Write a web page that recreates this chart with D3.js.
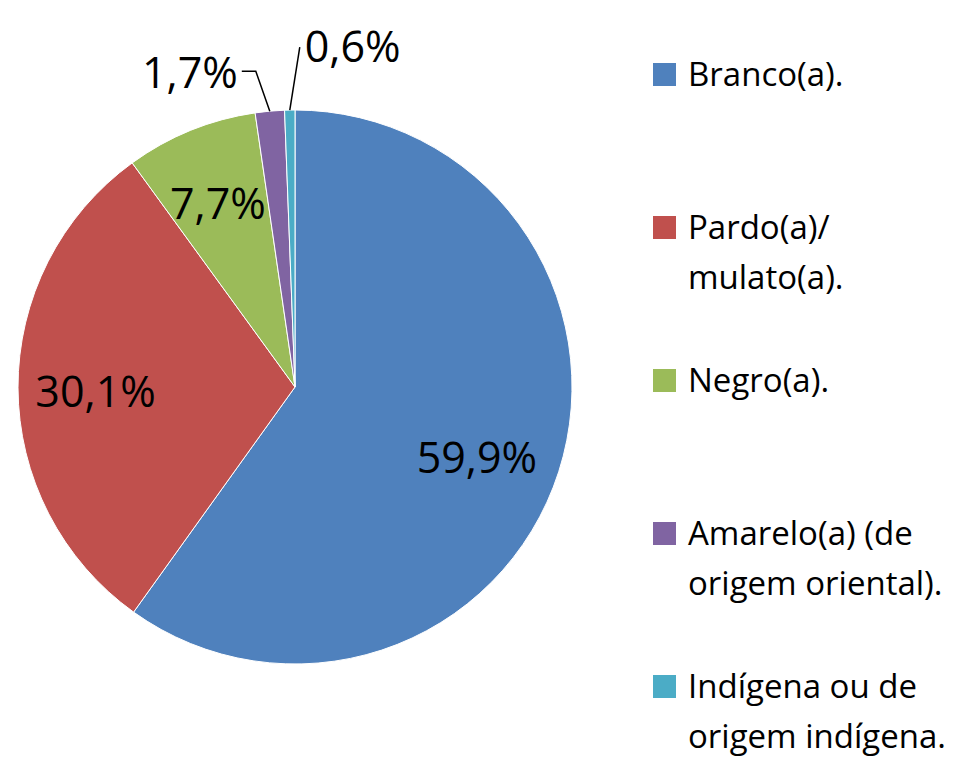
<!DOCTYPE html>
<html lang="pt">
<head>
<meta charset="UTF-8">
<title>Cor / raça</title>
<script src="https://cdn.jsdelivr.net/npm/d3@7"></script>
<style>
  body { margin: 0; background: #fff; }
  text { font-family: "Open Sans", Lato, sans-serif; fill: #000; }
</style>
</head>
<body>
<div class="chart"></div>
<script>
  // data
  const categories = ['Branco(a).', 'Pardo(a)/ mulato(a).', 'Negro(a).', 'Amarelo(a) (de origem oriental).', 'Indígena ou de origem indígena.'];
  const legendLines = [['Branco(a).'], ['Pardo(a)/', 'mulato(a).'], ['Negro(a).'], ['Amarelo(a) (de', 'origem oriental).'], ['Indígena ou de', 'origem indígena.']];
  const values = [59.9, 30.1, 7.7, 1.7, 0.6];
  const labels = ['59,9%', '30,1%', '7,7%', '1,7%', '0,6%'];
  const colors = ['#4F81BD', '#C0504D', '#9BBB59', '#8064A2', '#4BACC6'];

  const W = 964, H = 757;
  const cx = 295, cy = 387, R = 277;

  const svg = d3.select('.chart').append('svg')
    .attr('width', W).attr('height', H);

  const pie = d3.pie().sort(null).value(d => d);
  const arcs = pie(values);
  const arc = d3.arc().innerRadius(0).outerRadius(R);
  const labelArc = d3.arc().innerRadius(R * 0.72).outerRadius(R * 0.72);

  const g = svg.append('g').attr('transform', `translate(${cx} ${cy})`);
  g.selectAll('path.slice').data(arcs).enter().append('path')
    .attr('class', 'slice')
    .attr('d', arc)
    .attr('fill', (d, i) => colors[i])
    .attr('stroke', '#fff').attr('stroke-width', 1);

  // inside labels for big slices, leader lines for tiny ones
  const outside = { 3: { elbow: [-14, -40], text: [-4, 0], anchor: 'end' },
                    4: { elbow: [10, -63], text: [5, -2], anchor: 'start' } };
  const nudge = { 0: [-8, 8], 1: [0, 3], 2: [-2, 0] };

  arcs.forEach((d, i) => {
    if (outside[i]) {
      const o = outside[i];
      const a = (d.startAngle + d.endAngle) / 2;
      const p0 = [Math.sin(a) * R, -Math.cos(a) * R];
      const p1 = [p0[0] + o.elbow[0], p0[1] + o.elbow[1]];
      const pts = i === 3 ? [p0, p1, [p1[0] - 14, p1[1]]] : [p0, p1];
      g.append('path').attr('d', d3.line()(pts))
        .attr('fill', 'none').attr('stroke', '#000').attr('stroke-width', 1.5);
      const last = pts[pts.length - 1];
      g.append('text')
        .attr('x', last[0] + o.text[0]).attr('y', last[1] + o.text[1])
        .attr('text-anchor', o.anchor).attr('dominant-baseline', 'central')
        .attr('font-size', 43)
        .text(labels[i]);
    } else {
      const c = labelArc.centroid(d);
      g.append('text')
        .attr('x', c[0] + nudge[i][0]).attr('y', c[1] + nudge[i][1])
        .attr('text-anchor', 'middle').attr('dominant-baseline', 'central')
        .attr('font-size', 43)
        .text(labels[i]);
    }
  });

  // legend
  const lg = svg.append('g').attr('transform', 'translate(653 86)');
  const item = lg.selectAll('g').data(categories).enter().append('g')
    .attr('transform', (d, i) => `translate(0 ${i * 153})`);
  item.append('rect')
    .attr('x', 0).attr('y', -23).attr('width', 23).attr('height', 23)
    .attr('fill', (d, i) => colors[i]);
  item.append('text')
    .attr('font-size', 33)
    .selectAll('tspan').data((d, i) => legendLines[i]).enter().append('tspan')
    .attr('x', 35).attr('y', (d, j) => j * 50)
    .text(d => d);
</script>
</body>
</html>
